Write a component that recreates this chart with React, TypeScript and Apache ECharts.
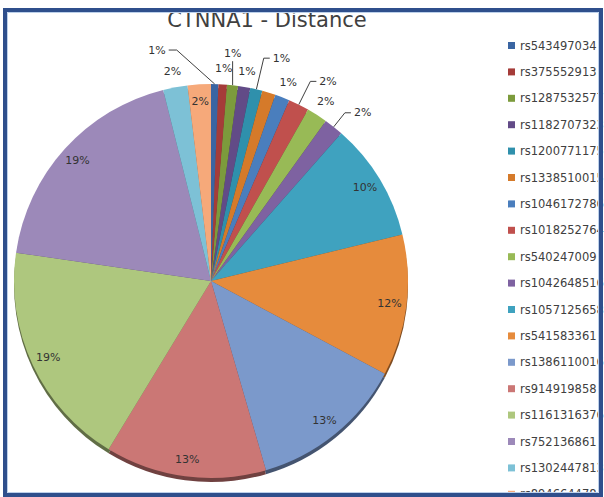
import React, { useEffect, useRef } from 'react';
import * as echarts from 'echarts';

const chartTitle = 'CTNNA1 - Distance';

const snpNames = [
  'rs543497034', 'rs375552913', 'rs1287532577', 'rs1182707323', 'rs1200771175',
  'rs1338510015', 'rs1046172786', 'rs1018252764', 'rs540247009', 'rs1042648516',
  'rs1057125658', 'rs541583361', 'rs1386110016', 'rs914919858', 'rs1161316376',
  'rs752136861', 'rs1302447813', 'rs894664478',
];

// share of the distance (percent)
const shares = [
  0.6, 0.7, 0.9, 1.0, 1.0,
  1.1, 1.2, 1.7, 1.7, 1.6,
  9.7, 11.6, 12.7, 13.2, 18.6,
  18.8, 2.0, 1.9,
];

const sliceColors = [
  '#3A65A2', '#A53C39', '#7C9B3C', '#624B87', '#2F90AC', '#D57A2A',
  '#4A7EBD', '#C0504D', '#98BA56', '#7E62A1', '#3FA2BF', '#E68B3C',
  '#7B99CB', '#CB7775', '#AEC77E', '#9C89B9', '#7DC1D6', '#F6A97A',
];

// where each slice's percentage label sits
const labelPlacement = [
  'leader', 'ring', 'leader', 'ring', 'leader',
  'ring', 'ring', 'leader', 'ring', 'leader',
  'inner', 'inner', 'inner', 'inner', 'inner',
  'inner', 'ring', 'inner',
];

// radial leader length per slice (only used for 'leader' labels)
const leaderLength = [26, 0, 26, 0, 32, 0, 0, 26, 0, 18, 0, 0, 0, 0, 0, 0, 0, 0];

function darken(hex: string, k: number) {
  const n = parseInt(hex.slice(1), 16);
  const r = Math.round(((n >> 16) & 255) * k);
  const g = Math.round(((n >> 8) & 255) * k);
  const b = Math.round((n & 255) * k);
  return `rgb(${r},${g},${b})`;
}

export default function App() {
  const ref = useRef<HTMLDivElement>(null);

  useEffect(() => {
    if (!ref.current) return;
    const chart = echarts.init(ref.current, null, { renderer: 'svg' });
    const FONT = 'DejaVu Sans';
    const pct = (p: any) => Math.round(p.percent) + '%';
    const center = [211, 281];
    const R = 197;

    const labelBase = {
      color: '#333333',
      fontFamily: FONT,
      fontSize: 11,
      formatter: pct,
      rotate: 0,
    };

    const mainData = snpNames.map((name, i) => ({
      name,
      value: shares[i],
      itemStyle: { color: sliceColors[i] },
      label: { show: labelPlacement[i] === 'leader' },
      labelLine: { show: labelPlacement[i] === 'leader', length: leaderLength[i] || 26 },
    }));

    const ringData = (mode: string) =>
      snpNames.map((name, i) => ({
        name,
        value: shares[i],
        label: { show: labelPlacement[i] === mode },
      }));

    const shadowData = snpNames.map((name, i) => ({
      name,
      value: shares[i],
      itemStyle: { color: darken(sliceColors[i], 0.55) },
    }));

    const option: any = {
      animation: false,
      backgroundColor: '#ffffff',
      legend: {
        orient: 'vertical',
        left: 508,
        top: 38.5,
        height: 480,
        padding: 0,
        itemWidth: 7,
        itemHeight: 7,
        itemGap: 12.4,
        icon: 'rect',
        selectedMode: false,
        data: snpNames,
        textStyle: { fontFamily: FONT, fontSize: 11.5, color: '#404040', lineHeight: 14 },
      },
      graphic: [
        {
          type: 'text',
          z: 50,
          style: {
            text: chartTitle,
            x: 267,
            y: 19.7,
            align: 'center',
            verticalAlign: 'middle',
            textAlign: 'center',
            textVerticalAlign: 'middle',
            font: '21px "DejaVu Sans"',
            fill: '#404040',
          },
        },
        {
          type: 'rect',
          z: 100,
          shape: { x: 5, y: 10, width: 596, height: 485 },
          style: { fill: 'none', stroke: '#2F4F8C', lineWidth: 4 },
        },
        {
          type: 'rect',
          z: 100,
          shape: { x: 7.5, y: 12.5, width: 591, height: 480 },
          style: { fill: 'none', stroke: '#BCD0EA', lineWidth: 1 },
        },
      ],
      series: [
        {
          type: 'pie',
          name: 'main',
          center,
          radius: R,
          z: 3,
          startAngle: 90,
          clockwise: true,
          avoidLabelOverlap: false,
          emphasis: { disabled: true },
          data: mainData,
          label: { ...labelBase, position: 'outside', distanceToLabelLine: 3 },
          labelLine: { length: 26, length2: 6, lineStyle: { color: '#404040', width: 1 } },
          labelLayout: (p: any) => {
            if (!p.labelLinePoints) return {};
            const s = p.labelLinePoints[0];
            if (p.dataIndex === 0) {
              const bend = [s[0] - 38, s[1] - 34];
              const end = [s[0] - 46, s[1] - 34];
              return {
                x: end[0] - 3,
                y: end[1],
                align: 'right',
                verticalAlign: 'middle',
                labelLinePoints: [s, bend, end],
              };
            }
            if (p.dataIndex === 2) {
              const top = [s[0], s[1] - 24];
              return {
                x: top[0],
                y: top[1] - 2,
                align: 'center',
                verticalAlign: 'bottom',
                labelLinePoints: [s, top, top],
              };
            }
            return {};
          },
        },
        {
          type: 'pie',
          name: 'innerLabels',
          center,
          radius: [166, 188],
          z: 4,
          silent: true,
          avoidLabelOverlap: false,
          itemStyle: { color: 'rgba(0,0,0,0)' },
          label: { ...labelBase, position: 'inside' },
          labelLine: { show: false },
          data: ringData('inner'),
        },
        {
          type: 'pie',
          name: 'outerLabels',
          center,
          radius: [200, 220],
          z: 4,
          silent: true,
          avoidLabelOverlap: false,
          itemStyle: { color: 'rgba(0,0,0,0)' },
          label: { ...labelBase, position: 'inside' },
          labelLine: { show: false },
          data: ringData('ring'),
        },
        {
          type: 'pie',
          name: 'edge',
          center: [center[0], center[1] + 4],
          radius: R,
          z: 1,
          silent: true,
          label: { show: false },
          labelLine: { show: false },
          data: shadowData,
        },
      ],
    };

    chart.setOption(option);
    return () => chart.dispose();
  }, []);

  return (
    <div
      ref={ref}
      style={{ position: 'absolute', left: 0, top: 0, width: 604, height: 497, background: '#fff' }}
    />
  );
}
